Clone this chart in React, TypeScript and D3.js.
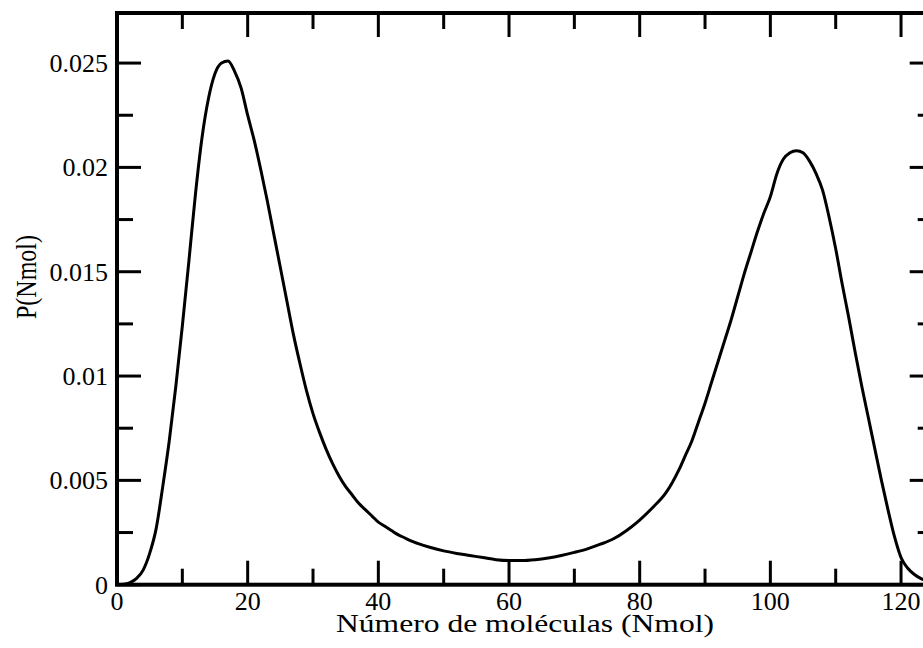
import React from "react";
import * as d3 from "d3";

const nmol = [0,1,2,3,4,5,6,7,8,9,10,11,12,13,14,15,16,17,18,19,20,21,22,23,24,25,26,27,28,29,30,31,32,33,34,35,36,37,38,39,40,41,42,43,44,45,46,48,50,52,54,56,58,60,62,64,66,68,70,72,74,76,78,80,82,84,85,86,87,88,89,90,91,92,93,94,95,96,97,98,99,100,101,102,103,104,105,106,107,108,109,110,111,112,113,114,115,116,117,118,119,120,121,122,123,124,125];
const prob = [0,0.00002,0.0001,0.0003,0.0007,0.0015,0.0027,0.0047,0.0069,0.0095,0.0124,0.0155,0.0187,0.0214,0.0233,0.0245,0.025,0.0251,0.0246,0.0238,0.0225,0.0213,0.0199,0.0184,0.0168,0.0152,0.0136,0.012,0.0106,0.0093,0.0082,0.0073,0.0065,0.0058,0.0052,0.0047,0.0043,0.0039,0.0036,0.0033,0.003,0.0028,0.0026,0.0024,0.00225,0.0021,0.00198,0.00178,0.00162,0.0015,0.0014,0.0013,0.0012,0.00116,0.00116,0.0012,0.00128,0.0014,0.00155,0.00172,0.00194,0.0022,0.0026,0.0031,0.0037,0.0044,0.0049,0.0055,0.0062,0.0069,0.0078,0.0087,0.0097,0.0107,0.0117,0.0127,0.0138,0.0149,0.0159,0.0169,0.0178,0.0186,0.0197,0.0204,0.0207,0.0208,0.0207,0.0203,0.0197,0.0189,0.0176,0.0161,0.0144,0.0128,0.0111,0.0095,0.008,0.0065,0.005,0.0036,0.0023,0.0013,0.0008,0.0005,0.0003,0.00018,0.0001];

const xMajor = [0,20,40,60,80,100,120];
const xMinor = [10,30,50,70,90,110];
const yMajor = [0,0.005,0.01,0.015,0.02,0.025];
const yMinor = [0.0025,0.0075,0.0125,0.0175,0.0225];
const yLabels = ["0","0.005","0.01","0.015","0.02","0.025"];
const xTitle = "Número de moléculas (Nmol)";
const yTitle = "P(Nmol)";

export default function App() {
  const W = 923, H = 648;
  const x = d3.scaleLinear().domain([0, 125]).range([117, 933.7]);
  const y = d3.scaleLinear().domain([0, 0.0274]).range([584.7, 13]);
  const [x0, x1] = x.range();
  const [y0, y1] = y.range();
  const line = d3.line<number>().x((_, i) => x(nmol[i])).y(d => y(d)).curve(d3.curveMonotoneX);
  const font = "'Liberation Serif', 'Times New Roman', serif";
  const maj = 24, min = 16;
  return (
    <svg width={W} height={H} style={{ position: "absolute", left: 0, top: 0, background: "#fff" }}>
      <rect x={0} y={0} width={W} height={H} fill="#fff" />
      <g stroke="#000" strokeWidth={3}>
        {xMajor.map(v => <g key={"xm" + v}>
          <line x1={x(v)} x2={x(v)} y1={y0} y2={y0 - maj} />
          <line x1={x(v)} x2={x(v)} y1={y1} y2={y1 + maj} />
        </g>)}
        {xMinor.map(v => <g key={"xn" + v}>
          <line x1={x(v)} x2={x(v)} y1={y0} y2={y0 - min} />
          <line x1={x(v)} x2={x(v)} y1={y1} y2={y1 + min} />
        </g>)}
        {yMajor.map(v => <g key={"ym" + v}>
          <line x1={x0} x2={x0 + maj} y1={y(v)} y2={y(v)} />
          <line x1={x1} x2={x1 - maj} y1={y(v)} y2={y(v)} />
        </g>)}
        {yMinor.map(v => <g key={"yn" + v}>
          <line x1={x0} x2={x0 + min} y1={y(v)} y2={y(v)} />
          <line x1={x1} x2={x1 - min} y1={y(v)} y2={y(v)} />
        </g>)}
      </g>
      <path d={line(prob) || ""} fill="none" stroke="#000" strokeWidth={3} strokeLinejoin="round" />
      <rect x={x0} y={y1} width={x1 - x0} height={y0 - y1} fill="none" stroke="#000" strokeWidth={4} />
      <g fontFamily={font} fontSize={26} fill="#000">
        {xMajor.map(v => <text key={"xl" + v} x={x(v)} y={610} textAnchor="middle">{String(v)}</text>)}
        {yMajor.map((v, i) => <text key={"yl" + v} x={108} y={y(v) + 9} textAnchor="end">{yLabels[i]}</text>)}
      </g>
      <text x={525} y={632} textAnchor="middle" fontFamily={font} fontSize={26} textLength={378} lengthAdjust="spacingAndGlyphs">{xTitle}</text>
      <text transform={`translate(36,277) rotate(-90)`} textAnchor="middle" fontFamily={font} fontSize={30} textLength={84} lengthAdjust="spacingAndGlyphs">{yTitle}</text>
    </svg>
  );
}
